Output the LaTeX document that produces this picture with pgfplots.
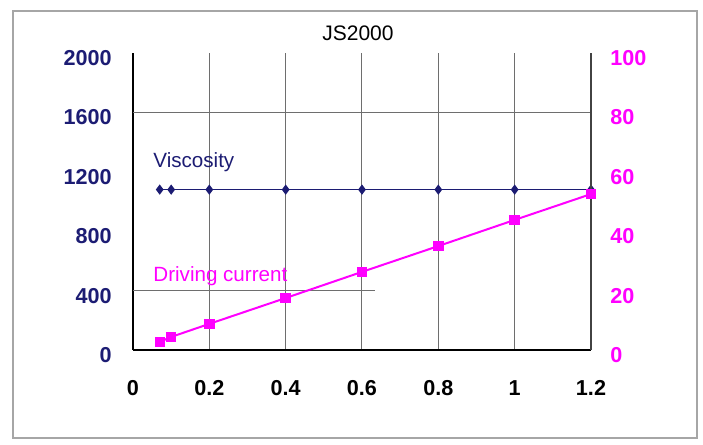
\documentclass[border=0pt]{standalone}
\usepackage{pgfplots}
\pgfplotsset{compat=1.18}
\usepackage{fontspec}
\setmainfont{Liberation Sans}
\definecolor{navy}{RGB}{28,28,115}
\definecolor{mag}{RGB}{255,0,255}
\definecolor{gridc}{RGB}{110,110,110}
\begin{document}
\begin{tikzpicture}
\useasboundingbox (0,0) rectangle (351.5pt,222.5pt);
\draw[gray!70, line width=0.8pt] (6.5pt,3.5pt) rectangle (348.5pt,217pt);
\node[font=\fontsize{10.5}{12}\selectfont] at (179pt,206pt) {JS2000};
\begin{axis}[
  at={(66.5pt,47.5pt)}, anchor=south west,
  scale only axis, width=229pt, height=148.5pt,
  xmin=0, xmax=1.2, ymin=0, ymax=2000,
  axis x line*=bottom, axis y line*=left,
  axis line style={black, line width=0.6pt},
  major tick length=0pt,
  xtick={0,0.2,0.4,0.6,0.8,1,1.2},
  xticklabels={0,0.2,0.4,0.6,0.8,1,1.2},
  ytick={0,400,800,1200,1600,2000},
  yticklabels={0,400,800,1200,1600,2000},
  xmajorgrids, major grid style={gridc, line width=0.5pt},
  tick label style={font=\fontsize{10.8}{12}\selectfont\bfseries},
  xticklabel style={anchor=base, inner sep=0pt, yshift=-22.75pt},
  yticklabel style={anchor=east, inner sep=0pt, xshift=-10.5pt, yshift=-2.5pt, text=navy},
  clip=false,
]
\draw[gridc, line width=0.5pt] (axis cs:0,1600) -- (axis cs:1.2,1600);
\draw[gridc, line width=0.5pt] (axis cs:0,400) -- (axis cs:0.635,400);
\addplot[navy, line width=0.7pt, mark=diamond*, mark size=2pt, mark options={fill=navy}]
  coordinates {(0.07,1080) (0.1,1080) (0.2,1080) (0.4,1080) (0.6,1080) (0.8,1080) (1.0,1080) (1.2,1080)};
\node[anchor=base west, text=navy, font=\fontsize{10.3}{12}\selectfont, inner sep=0pt] at (axis cs:0.0524,1226) {Viscosity};
\node[anchor=base west, text=mag, font=\fontsize{10.3}{12}\selectfont, inner sep=0pt] at (axis cs:0.0524,458) {Driving current};
\end{axis}
\begin{axis}[
  at={(66.5pt,47.5pt)}, anchor=south west,
  scale only axis, width=229pt, height=148.5pt,
  xmin=0, xmax=1.2, ymin=0, ymax=100,
  axis x line=none, axis y line*=right,
  axis line style={gridc!60!black, line width=0.6pt},
  major tick length=0pt,
  ytick={0,20,40,60,80,100},
  yticklabels={0,20,40,60,80,100},
  tick label style={font=\fontsize{10.8}{12}\selectfont\bfseries},
  yticklabel style={anchor=west, inner sep=0pt, xshift=9.5pt, yshift=-2.5pt, text=mag},
  clip=false,
]
\addplot[mag, line width=1pt, mark=square*, mark size=2.1pt, mark options={fill=mag}]
  coordinates {(0.07,2.7) (0.1,4.4) (0.2,8.8) (0.4,17.5) (0.6,26.3) (0.8,35.0) (1.0,43.8) (1.2,52.5)};
\end{axis}
\end{tikzpicture}
\end{document}
